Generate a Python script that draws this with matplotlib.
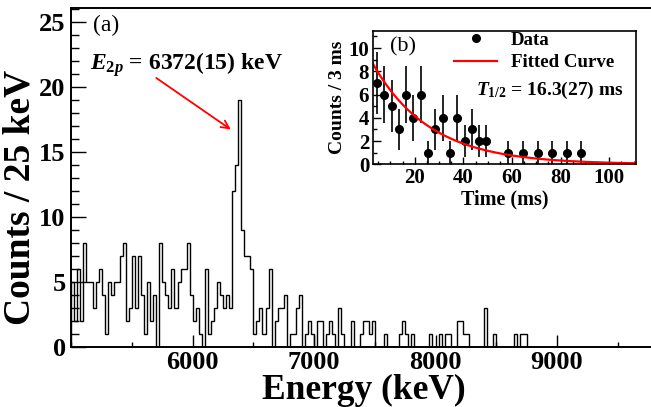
import numpy as np
import matplotlib.pyplot as plt
from matplotlib.ticker import MultipleLocator

plt.rcParams['font.family'] = 'Liberation Serif'
plt.rcParams['font.weight'] = 'bold'
plt.rcParams['axes.labelweight'] = 'bold'
plt.rcParams['mathtext.fontset'] = 'custom'
plt.rcParams['mathtext.rm'] = 'Liberation Serif:bold'
plt.rcParams['mathtext.it'] = 'Liberation Serif:italic:bold'
plt.rcParams['mathtext.bf'] = 'Liberation Serif:bold'

# energy spectrum, 25 keV bins starting at 5000 keV
e_start = 5000
bin_width = 25
counts = [5, 2, 6, 2, 8, 5, 5, 3, 5, 6,
          4, 1, 5, 4, 5, 5, 7, 8, 2, 3,
          7, 3, 7, 4, 1, 5, 2, 4, 0, 8,
          5, 4, 3, 6, 3, 5, 6, 6, 8, 4,
          2, 3, 1, 0, 6, 1, 2, 3, 5, 4,
          3, 4, 3, 12, 14, 19, 9, 7, 7, 6,
          1, 2, 3, 1, 3, 6, 0, 2, 3, 3,
          4, 0, 1, 1, 3, 4, 0, 1, 2, 1,
          0, 2, 2, 0, 1, 2, 1, 0, 3, 1,
          0, 0, 2, 0, 0, 1, 2, 2, 1, 2,
          0, 0, 0, 1, 0, 0, 0, 0, 1, 2,
          1, 0, 1, 0, 0, 0, 0, 0, 1, 0,
          0, 1, 0, 1, 1, 0, 0, 2, 2, 1,
          1, 0, 0, 0, 0, 0, 3, 0, 0, 1,
          0, 0, 0, 0, 0, 0, 1, 0, 1, 1,
          0, 0, 0, 0, 0, 0, 0, 0, 0, 0,
          0, 0, 0, 0, 0, 0, 0, 0, 0, 0,
          0, 0, 0, 0, 0, 0, 0, 0, 0, 0,
          0, 0, 0, 0, 0, 0, 0, 0, 0, 0,
          0]

# decay time spectrum (inset)
t_mid = [4.5, 7.5, 10.5, 13.5, 16.5, 19.5, 22.5, 25.5, 28.5, 31.5, 34.5,
         37.5, 40.5, 43.5, 46.5, 49.5, 58.5, 64.5, 70.5, 76.5, 82.5, 88.5]
t_counts = [7, 6, 5, 3, 6, 4, 6, 1, 3, 4, 1,
            4, 2, 3, 2, 2, 1, 1, 1, 1, 1, 1]
fit_amp = 9.75
t_half = 16.3

fig = plt.figure(figsize=(6.51, 4.07), dpi=100)
ax = fig.add_axes([0.1095, 0.148, 0.8905, 0.832])

edges = e_start + bin_width * np.arange(len(counts) + 1)
ax.stairs(counts, edges, color='black', lw=1.0, baseline=0)
ax.set_xlim(5000, 9775)
ax.set_ylim(0, 26.05)
ax.spines['right'].set_visible(False)
for s in ['left', 'bottom', 'top']:
    ax.spines[s].set_linewidth(1.4)

ax.set_xticks([6000, 7000, 8000, 9000])
ax.xaxis.set_minor_locator(MultipleLocator(500))
ax.yaxis.set_major_locator(MultipleLocator(5))
ax.yaxis.set_minor_locator(MultipleLocator(1))
ax.tick_params(which='both', direction='in', top=False, right=False, labelsize=19, width=1)
ax.tick_params(axis='y', which='major', length=11, pad=4)
ax.tick_params(axis='y', which='minor', length=5.5)
ax.tick_params(axis='x', which='major', length=8.4, pad=3)
ax.tick_params(axis='x', which='minor', length=3.6)

ax.set_xlabel('Energy (keV)', fontsize=25.5)
ax.set_ylabel('Counts / 25 keV', fontsize=27)
ax.xaxis.set_label_coords(0.505, -0.08)
ax.yaxis.set_label_coords(-0.058, 0.44)

ax.text(0.037, 0.95, '(a)', transform=ax.transAxes, fontsize=17,
        fontweight='normal', va='center', ha='left')
ax.text(0.032, 0.832, r'$\mathit{E}_{\mathit{2p}}$ = 6372(15) keV', transform=ax.transAxes,
        fontsize=17, va='center', ha='left')
ax.annotate('', xy=(6332, 16.6), xytext=(5681, 20.8),
            arrowprops=dict(arrowstyle='->', color='red', lw=1.3, mutation_scale=14))

# inset
ax2 = fig.add_axes([0.5735, 0.5963, 0.4035, 0.3283])
ax2.errorbar(t_mid, t_counts, yerr=np.sqrt(t_counts), fmt='none', ecolor='black',
             elinewidth=1.2, capsize=0)
ax2.plot(t_mid, t_counts, 'o', color='black', ms=5.5, label='Data')
tt = np.linspace(3, 111, 300)
ax2.plot(tt, fit_amp * np.exp(-np.log(2) * tt / t_half), color='red', lw=1.6,
         label='Fitted Curve')
ax2.set_xlim(3, 111)
ax2.set_ylim(0, 11.5)
for s in ax2.spines.values():
    s.set_linewidth(1.2)
ax2.xaxis.set_major_locator(MultipleLocator(20))
ax2.xaxis.set_minor_locator(MultipleLocator(5))
ax2.yaxis.set_major_locator(MultipleLocator(2))
ax2.yaxis.set_minor_locator(MultipleLocator(1))
ax2.tick_params(which='both', direction='in', top=False, right=False, labelsize=15, width=1, pad=3)
ax2.tick_params(axis='y', which='major', length=6)
ax2.tick_params(axis='y', which='minor', length=3)
ax2.tick_params(axis='x', which='major', length=5)
ax2.tick_params(axis='x', which='minor', length=2.5)
ax2.set_xlabel('Time (ms)', fontsize=14.5, labelpad=1)
ax2.set_ylabel('Counts / 3 ms', fontsize=14, labelpad=2)

ax2.text(0.063, 0.88, '(b)', transform=ax2.transAxes, fontsize=16,
         fontweight='normal', va='center', ha='left')
ax2.text(0.391, 0.551, r'$\mathit{T}_{\mathit{1/2}}$ = 16.3(27) ms', transform=ax2.transAxes,
         fontsize=14, va='center', ha='left')
ax2.legend(loc='upper left', bbox_to_anchor=(0.307, 0.995), frameon=False, fontsize=13.6,
           handlelength=2.3, handletextpad=0.7, labelspacing=0.3, borderpad=0,
           borderaxespad=0, numpoints=1)

fig.savefig('out.png', dpi=100)
